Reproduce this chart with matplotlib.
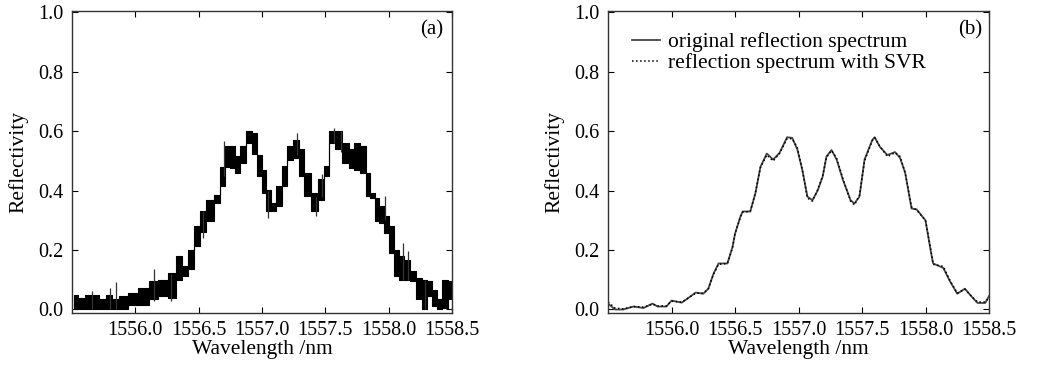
import numpy as np
import matplotlib
matplotlib.use('Agg')
import matplotlib.pyplot as plt

plt.rcParams['font.family'] = ['Liberation Serif', 'DejaVu Serif']
plt.rcParams['font.size'] = 15

# (a) measured spectrum: noisy band, lower and upper edge per step
wl_a = [1555.52, 1555.57, 1555.63, 1555.69, 1555.74, 1555.79, 1555.84, 1555.90,
        1555.98, 1556.07, 1556.14, 1556.22, 1556.30, 1556.34, 1556.39, 1556.44,
        1556.49, 1556.53, 1556.59, 1556.65, 1556.69, 1556.72, 1556.77, 1556.81,
        1556.85, 1556.90, 1556.94, 1556.98, 1557.02, 1557.05, 1557.09, 1557.13,
        1557.18, 1557.22, 1557.27, 1557.31, 1557.36, 1557.42, 1557.47, 1557.51,
        1557.55, 1557.60, 1557.66, 1557.71, 1557.75, 1557.80, 1557.84, 1557.87,
        1557.91, 1557.94, 1557.98, 1558.02, 1558.06, 1558.10, 1558.14, 1558.19,
        1558.24, 1558.28, 1558.32, 1558.36, 1558.40, 1558.45, 1558.49]
lo_a = [0.0, 0.0, 0.0, 0.0, 0.0, 0.0, 0.0, 0.0,
        0.015, 0.015, 0.034, 0.045, 0.04, 0.10, 0.112, 0.135,
        0.213, 0.26, 0.297, 0.36, 0.415, 0.48, 0.477, 0.46,
        0.494, 0.561, 0.522, 0.45, 0.393, 0.33, 0.331, 0.348,
        0.415, 0.505, 0.51, 0.449, 0.381, 0.331, 0.37, 0.449,
        0.561, 0.539, 0.494, 0.477, 0.471, 0.46, 0.381, 0.376,
        0.297, 0.292, 0.258, 0.19, 0.112, 0.10, 0.10, 0.095,
        0.034, 0.0, 0.045, 0.011, 0.0, 0.006, 0.034]
hi_a = [0.05, 0.04, 0.05, 0.05, 0.034, 0.05, 0.034, 0.045,
        0.056, 0.073, 0.095, 0.10, 0.124, 0.18, 0.146, 0.20,
        0.28, 0.33, 0.37, 0.387, 0.48, 0.55, 0.55, 0.516,
        0.55, 0.60, 0.595, 0.52, 0.47, 0.404, 0.359, 0.415,
        0.482, 0.55, 0.572, 0.539, 0.46, 0.393, 0.438, 0.482,
        0.60, 0.60, 0.561, 0.539, 0.561, 0.55, 0.46, 0.393,
        0.376, 0.348, 0.314, 0.28, 0.20, 0.18, 0.168, 0.129,
        0.107, 0.10, 0.095, 0.067, 0.034, 0.10, 0.095]
# thin spikes standing out of the band
spike_x = [1555.655, 1555.80, 1555.85, 1556.15, 1556.285, 1556.535, 1556.70,
           1557.05, 1557.28, 1557.43, 1557.47, 1557.57, 1557.62, 1557.97,
           1558.11, 1558.15, 1558.29]
spike_lo = [0.0, 0.0, 0.0, 0.03, 0.03, 0.24, 0.45, 0.309, 0.52, 0.314, 0.38,
            0.56, 0.53, 0.30, 0.10, 0.10, 0.0]
spike_hi = [0.062, 0.073, 0.092, 0.135, 0.12, 0.33, 0.567, 0.40, 0.595, 0.38,
            0.455, 0.612, 0.60, 0.381, 0.224, 0.196, 0.10]

# (b) original spectrum and SVR reconstruction
wl_b = [1555.50, 1555.555, 1555.62, 1555.70, 1555.78, 1555.85, 1555.89, 1555.96,
        1556.00, 1556.08, 1556.12, 1556.19, 1556.25, 1556.29, 1556.33, 1556.37,
        1556.44, 1556.48, 1556.50, 1556.54, 1556.56, 1556.62, 1556.66, 1556.70,
        1556.75, 1556.80, 1556.85, 1556.91, 1556.95, 1556.99, 1557.03, 1557.07,
        1557.11, 1557.15, 1557.19, 1557.22, 1557.26, 1557.30, 1557.35, 1557.41,
        1557.44, 1557.48, 1557.52, 1557.58, 1557.60, 1557.64, 1557.70, 1557.76,
        1557.80, 1557.84, 1557.89, 1557.93, 1558.00, 1558.04, 1558.06, 1558.14,
        1558.19, 1558.25, 1558.31, 1558.37, 1558.41, 1558.47, 1558.50]
orig_b = [0.02, 0.0, 0.0, 0.01, 0.005, 0.02, 0.01, 0.01,
          0.03, 0.023, 0.035, 0.057, 0.053, 0.07, 0.12, 0.155,
          0.155, 0.21, 0.255, 0.31, 0.33, 0.33, 0.39, 0.48,
          0.525, 0.505, 0.527, 0.58, 0.578, 0.54, 0.47, 0.38,
          0.368, 0.40, 0.447, 0.515, 0.537, 0.505, 0.436, 0.368,
          0.357, 0.38, 0.505, 0.57, 0.58, 0.548, 0.52, 0.53,
          0.51, 0.46, 0.34, 0.337, 0.30, 0.20, 0.155, 0.14,
          0.097, 0.053, 0.07, 0.04, 0.022, 0.022, 0.045]
svr_b = [0.025, 0.005, 0.002, 0.01, 0.008, 0.018, 0.012, 0.012,
         0.028, 0.025, 0.035, 0.055, 0.055, 0.07, 0.118, 0.152,
         0.155, 0.208, 0.255, 0.308, 0.328, 0.33, 0.392, 0.478,
         0.52, 0.50, 0.525, 0.575, 0.575, 0.545, 0.47, 0.375,
         0.365, 0.402, 0.45, 0.512, 0.535, 0.51, 0.44, 0.365,
         0.352, 0.385, 0.50, 0.568, 0.578, 0.55, 0.515, 0.528,
         0.515, 0.46, 0.345, 0.335, 0.30, 0.205, 0.152, 0.145,
         0.10, 0.055, 0.068, 0.042, 0.025, 0.025, 0.04]

xticks = [1556.0, 1556.5, 1557.0, 1557.5, 1558.0, 1558.5]
yticks = [0.0, 0.2, 0.4, 0.6, 0.8, 1.0]

fig = plt.figure(figsize=(10.46, 3.67), dpi=100)
ax_a = fig.add_axes([0.0688, 0.147, 0.3633, 0.823])
ax_b = fig.add_axes([0.5813, 0.147, 0.3642, 0.823])

# panel (a)
ax_a.fill_between(wl_a, lo_a, hi_a, step='mid', color='black', lw=0.8)
ax_a.vlines(spike_x, spike_lo, spike_hi, color='#333333', lw=0.9)
ax_a.text(0.947, 0.937, '(a)', transform=ax_a.transAxes, ha='center', va='center')

# panel (b)
ax_b.plot(wl_b, orig_b, color='#444444', lw=1.3, label='original reflection spectrum')
ax_b.plot(wl_b, svr_b, color='black', lw=1.1, ls=':', label='reflection spectrum with SVR')
ax_b.text(0.95, 0.937, '(b)', transform=ax_b.transAxes, ha='center', va='center')
ax_b.legend(loc='upper left', bbox_to_anchor=(0.063, 0.93), frameon=False,
            borderaxespad=0, borderpad=0, labelspacing=0.05, handlelength=1.3,
            handletextpad=0.35, fontsize=15.5)

for ax in (ax_a, ax_b):
    ax.set_xlim(1555.5, 1558.5)
    ax.set_ylim(-0.012, 1.005)
    ax.set_xticks(xticks)
    ax.set_yticks(yticks)
    ax.set_xticklabels(['%.1f' % t for t in xticks])
    ax.set_yticklabels(['%.1f' % t for t in yticks])
    ax.tick_params(direction='in', length=4, width=0.8, top=True, right=True,
                   pad=6, labelsize=14.5)
    ax.set_xlabel('Wavelength /nm', labelpad=0, fontsize=15.5)
    ax.set_ylabel('Reflectivity', labelpad=7, fontsize=15.5)
    for s in ax.spines.values():
        s.set_linewidth(1.0)
        s.set_color('#333333')

fig.savefig('out.png', dpi=100)
